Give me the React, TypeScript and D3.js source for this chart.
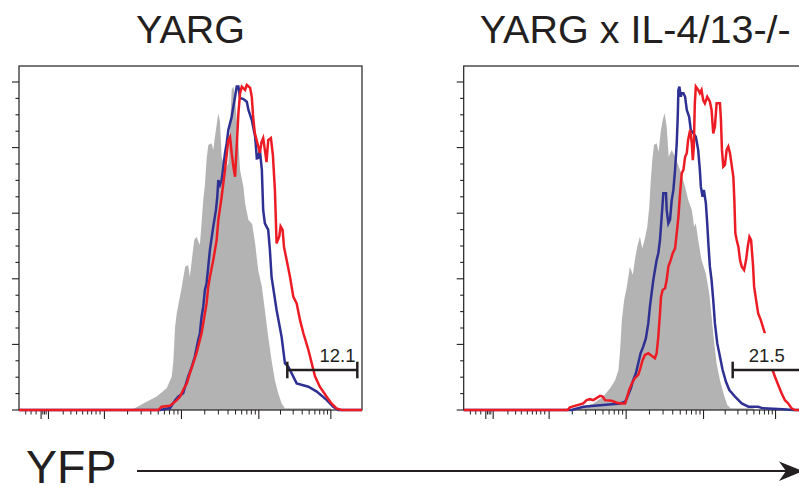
import * as d3 from "d3";

const WIDTH = 799;
const HEIGHT = 487;
const PLOT_W = 343;
const PLOT_TOP = 66;
const PLOT_BOTTOM = 410;
const PANEL_LEFT = [19, 463.7];
const INK = "#231f20";
const FONT = "'Liberation Sans', Arial, Helvetica, sans-serif";

// x: display channel (0-1024, biexponential YFP), y: % of max
const yargControl = [[0,0],[336,0],[371,2],[411,4.1],[441,6.6],[456,10.2],[461,15.2],[466,25.4],[471,29.5],[486,37.6],[496,43.7],[505,44.2],[510,40.6],[516,45.7],[523,51.8],[530,52.8],[540,50.3],[545,56.9],[550,64],[555,68.6],[560,76.2],[565,80.8],[575,81.3],[580,79.3],[585,83.3],[595,90.5],[600,87.9],[605,77.2],[615,73.2],[625,75.2],[630,86.4],[635,97.6],[640,98.6],[645,95.5],[650,88.4],[655,81.3],[660,73.2],[670,68.1],[675,63],[685,57.9],[690,57.4],[696,56.7],[705,50.8],[714,42.7],[725,37.6],[734,30.5],[744,22.3],[754,15.2],[764,9.1],[774,5.1],[784,2],[794,0.5],[930,0.5],[934,0],[1024,0]];
const yargBlue = [[0,0],[421,0],[451,0.6],[466,3],[476,4.1],[490,5.1],[505,10.2],[516,13.2],[525,16.3],[535,21.3],[540,23.4],[545,28.4],[550,31.5],[555,36.6],[560,38.6],[565,43.7],[570,48.8],[580,55.9],[588,61],[592,65],[595,70.1],[600,68.6],[605,70.1],[610,74.2],[615,78.3],[620,81.3],[625,85.4],[630,87.4],[635,89.4],[640,92.5],[645,95.5],[650,98.6],[655,98.6],[660,95.1],[670,94.8],[680,94],[685,91.5],[695,88.4],[705,83.3],[710,76.7],[714,76.8],[719,79.3],[725,73.2],[729,61],[734,56.9],[744,54.9],[749,48.8],[754,40.6],[769,30.5],[784,22.3],[794,14.2],[804,13.2],[829,8.1],[864,7.1],[889,5.6],[919,3],[938,1],[953,0],[1024,0]];
const yargRed = [[0,0],[416,0],[426,1],[451,1.3],[471,3],[481,4.1],[490,6.1],[501,8.1],[510,11.2],[520,14.2],[530,17.3],[545,23.4],[555,29.5],[560,32.5],[565,37.6],[570,40.6],[580,45.7],[590,51.8],[595,57.9],[605,65],[615,73.2],[625,82.3],[630,83.3],[635,78.3],[640,74.2],[645,71.1],[650,80.3],[655,90.5],[660,96.6],[665,98.6],[675,97.6],[680,99.1],[690,98.2],[695,95.4],[699,89.4],[704,84.4],[714,80.5],[719,78.4],[724,81.7],[729,82.9],[734,79.3],[739,75.6],[744,82.3],[752,82.9],[758,77.7],[764,67.1],[769,50.8],[777,52.9],[781,56],[787,54.9],[791,49.8],[799,45.7],[809,40.6],[819,34.5],[829,32.5],[839,27.4],[849,23.4],[864,18.3],[874,14.2],[884,10.2],[898,7.1],[918,4.1],[933,2],[948,0.5],[963,0],[1024,0]];

const koControl = [[0,0],[337,0],[387,2],[417,4.1],[437,6.6],[452,9.1],[462,12.2],[467,18.3],[472,27.4],[479,33.5],[487,37.6],[496,43.7],[505,41.2],[511,45.7],[518,49.8],[526,52.8],[533,49.3],[540,51.8],[548,55.9],[554,62],[558,69.1],[563,76.2],[568,80.8],[576,81.3],[582,78.7],[588,84.8],[594,88.4],[600,90.5],[606,86.4],[612,77.2],[621,79.3],[631,77.2],[646,73.2],[661,68.1],[670,64.1],[681,61],[688,55.9],[693,56.9],[700,51.8],[710,45.7],[723,41.6],[733,35.6],[740,28.5],[747,21.3],[755,14.2],[765,9.1],[777,4.6],[787,1.5],[797,0.5],[865,0.5],[868,0],[1024,0]];
const koBlue = [[0,0],[322,0],[357,1],[467,2],[482,2.5],[491,4.6],[499,6.6],[506,9.1],[514,11.2],[521,14.2],[528,17.3],[536,19.3],[544,21.9],[551,26.4],[556,31.5],[561,35.6],[566,39.6],[571,42.7],[576,45.7],[581,47.8],[586,51.8],[591,58.9],[596,66.1],[604,66.1],[606,61],[611,56.9],[616,58],[621,64],[626,67.1],[631,73.2],[636,81.3],[639,89.4],[641,97.6],[644,98.6],[648,95.5],[651,96.6],[656,96.6],[661,95.5],[666,91.5],[673,89.4],[678,85.4],[693,83.3],[700,79.3],[705,73.2],[708,68.1],[713,65],[717,67.1],[723,63],[727,56.9],[731,49.8],[735,43.7],[740,39.6],[745,33.5],[750,26.4],[757,20.3],[765,16.3],[773,12.2],[783,8.6],[793,6.1],[810,4.1],[830,2],[850,1],[879,1],[894,0.5],[954,0.2],[984,0],[1024,0]];
const koRed = [[0,0],[310,0],[317,0.8],[357,2],[367,3],[377,3.3],[387,3],[407,4.3],[415,4.1],[422,3],[442,2.8],[457,2.2],[472,2],[482,2],[487,3.6],[494,6.1],[502,8.1],[511,9.7],[521,10.7],[526,12.2],[534,15.2],[541,16.8],[551,17.3],[564,16.3],[571,15.8],[576,17.3],[581,22.3],[586,29.5],[589,34.5],[594,36.6],[601,37.1],[606,39.6],[611,43.7],[618,45.7],[624,47.8],[631,49.3],[636,53.9],[641,58.9],[646,66.1],[651,72.2],[656,73.2],[661,77.2],[666,78.3],[670,82.3],[676,85.4],[681,81.3],[684,76.2],[687,80.3],[690,93.5],[693,98.6],[700,97.6],[705,96.6],[710,97.6],[715,94.5],[720,93.5],[727,95.5],[735,94],[740,91.5],[745,84.3],[750,86.4],[755,93.5],[765,93.5],[768,88.4],[771,79.3],[775,74.2],[780,74.7],[785,79.3],[790,80.3],[795,78.3],[805,71.1],[808,64],[811,53.9],[815,51.8],[820,49.8],[825,45.7],[830,43.7],[837,42.7],[843,45.7],[848,49.8],[853,52.8],[858,51.8],[861,47.8],[864,43.7],[867,37.6],[873,33.5],[879,29.5],[887,27.4],[893,25.4],[899,23.4],[922,12.2],[929,10.2],[939,7.6],[949,5.1],[959,3],[969,2],[979,0.5],[989,0],[1024,0]];

const gateYarg = { from: 801, to: 1010, level: 12.2, label: "12.1", labelAt: 951 };
const gateKo = { from: 803, to: 1010, level: 12.2, label: "21.5", labelAt: 905 };

const titles = ["YARG", "YARG x IL-4/13-/-"];

// axis ticks (display channels / % of max)
const xMajorTicks = [66, 88, 255, 485, 716, 931];
const xNearZeroMinor = [20, 36, 51, 71, 76, 81, 132, 155, 172, 190, 205, 217, 230, 242];
const yTicks = d3.range(0, 101, 5);

const panels = [
  { title: titles[0], control: yargControl, blue: yargBlue, red: yargRed, gate: gateYarg },
  { title: titles[1], control: koControl, blue: koBlue, red: koRed, gate: gateKo },
];

// 2..9 minor ticks inside each log decade (10^2 .. 10^5)
function logMinors(decades: number[]) {
  const out: number[] = [];
  for (let i = 0; i < decades.length - 1; i += 1) {
    const a = decades[i];
    const b = decades[i + 1];
    for (let k = 2; k <= 9; k += 1) out.push(a + (b - a) * Math.log10(k));
  }
  return out;
}

const xMinorTicks = [...xNearZeroMinor, ...logMinors(xMajorTicks.slice(2))];

function Panel({ panel, left }: { panel: (typeof panels)[number]; left: number }) {
  const x = d3.scaleLinear().domain([0, 1024]).range([left, left + PLOT_W]);
  const y = d3.scaleLinear().domain([0, 100]).range([PLOT_BOTTOM, 82]);
  const area = d3
    .area<number[]>()
    .x((d) => x(d[0]))
    .y0(y(0))
    .y1((d) => y(d[1]));
  const line = d3
    .line<number[]>()
    .x((d) => x(d[0]))
    .y((d) => y(d[1]));
  const gate = panel.gate;
  const gy = y(gate.level);
  const labelBase = gy - 8.3;

  return (
    <g>
      <text
        x={left + PLOT_W / 2}
        y={42.7}
        textAnchor="middle"
        fontSize={39.5}
        fill={INK}
        fontFamily={FONT}
      >
        {panel.title}
      </text>
      <path d={area(panel.control) || ""} fill="#b3b3b3" />
      <rect x={left} y={PLOT_TOP} width={PLOT_W} height={PLOT_BOTTOM - PLOT_TOP} fill="none" stroke={INK} strokeWidth={1.2} />
      {yTicks.map((t) => (
        <line
          key={`y${t}`}
          x1={left - (t % 20 === 0 ? 7 : 3.5)}
          x2={left}
          y1={y(t)}
          y2={y(t)}
          stroke={INK}
          strokeWidth={1.1}
        />
      ))}
      {xMajorTicks.map((t) => (
        <line key={`xM${t}`} x1={x(t)} x2={x(t)} y1={PLOT_BOTTOM} y2={PLOT_BOTTOM + 9} stroke={INK} strokeWidth={1.1} />
      ))}
      {xMinorTicks.map((t, i) => (
        <line key={`xm${i}`} x1={x(t)} x2={x(t)} y1={PLOT_BOTTOM} y2={PLOT_BOTTOM + 4.5} stroke={INK} strokeWidth={1} />
      ))}
      <path d={line(panel.blue) || ""} fill="none" stroke="#2e3192" strokeWidth={2.5} strokeLinejoin="miter" />
      <path d={line(panel.red) || ""} fill="none" stroke="#ed1c24" strokeWidth={2.5} strokeLinejoin="miter" />
      <rect x={x(gate.labelAt) - 22.5} y={labelBase - 28.5} width={45} height={36} fill="#ffffff" />
      <text
        x={x(gate.labelAt)}
        y={labelBase}
        textAnchor="middle"
        fontSize={18.5}
        fill={INK}
        fontFamily={FONT}
      >
        {gate.label}
      </text>
      <g stroke={INK} strokeWidth={2.5}>
        <line x1={x(gate.from)} x2={x(gate.to)} y1={gy} y2={gy} />
        <line x1={x(gate.from)} x2={x(gate.from)} y1={gy - 8.3} y2={gy + 8.3} />
        <line x1={x(gate.to)} x2={x(gate.to)} y1={gy - 8.3} y2={gy + 8.3} />
      </g>
    </g>
  );
}

export default function App() {
  return (
    <svg
      width={WIDTH}
      height={HEIGHT}
      viewBox={`0 0 ${WIDTH} ${HEIGHT}`}
      style={{ position: "absolute", left: 0, top: 0, background: "#ffffff" }}
    >
      <rect width={WIDTH} height={HEIGHT} fill="#ffffff" />
      {panels.map((p, i) => (
        <Panel key={p.title} panel={p} left={PANEL_LEFT[i]} />
      ))}
      <text x={26} y={483} fontSize={46.5} fill={INK} fontFamily={FONT}>
        YFP
      </text>
      <line x1={137} x2={786} y1={471} y2={471} stroke={INK} strokeWidth={2} />
      <path d="M803,471 L779,461.5 L786,471 L779,481 Z" fill={INK} />
    </svg>
  );
}
